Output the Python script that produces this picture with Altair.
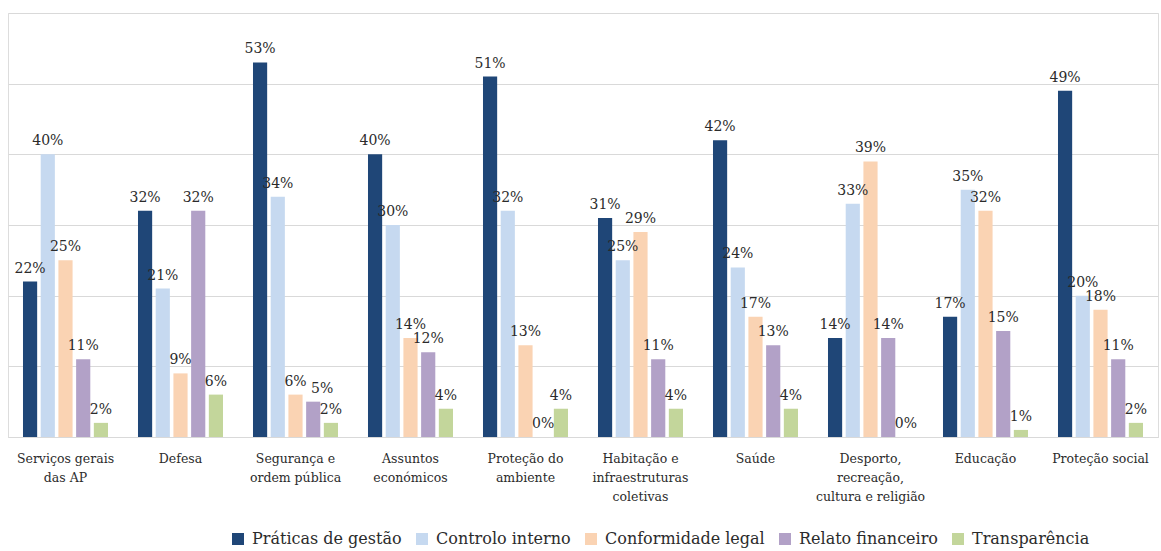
import altair as alt
import pandas as pd

# Areas of government (line breaks mark how the axis labels wrap)
areas = [
    "Serviços gerais\ndas AP",
    "Defesa",
    "Segurança e\nordem pública",
    "Assuntos\neconómicos",
    "Proteção do\nambiente",
    "Habitação e\ninfraestruturas\ncoletivas",
    "Saúde",
    "Desporto,\nrecreação,\ncultura e religião",
    "Educação",
    "Proteção social",
]

series = [
    "Práticas de gestão",
    "Controlo interno",
    "Conformidade legal",
    "Relato financeiro",
    "Transparência",
]
colors = ["#1F4677", "#C6D9F0", "#FAD3B3", "#B2A1C7", "#C3D69B"]

# Share of recommendations (%) per area, one list per series
praticas = [22, 32, 53, 40, 51, 31, 42, 14, 17, 49]
controlo = [40, 21, 34, 30, 32, 25, 24, 33, 35, 20]
conformidade = [25, 9, 6, 14, 13, 29, 17, 39, 32, 18]
relato = [11, 32, 5, 12, 0, 11, 13, 14, 15, 11]
transparencia = [2, 6, 2, 4, 4, 4, 4, 0, 1, 2]

values = [praticas, controlo, conformidade, relato, transparencia]

rows = []
for s, vals in zip(series, values):
    for a, v in zip(areas, vals):
        rows.append({"area": a, "serie": s, "valor": v / 100, "rotulo": f"{v}%"})
df = pd.DataFrame(rows)

FONT = "DejaVu Serif"
TEXT = "#2B2B2B"

base = alt.Chart(df).encode(
    x=alt.X(
        "area:N",
        sort=areas,
        scale=alt.Scale(paddingInner=0.23, paddingOuter=0.115),
        axis=alt.Axis(
            title=None,
            labelAngle=0,
            labelExpr="split(datum.label, '\\n')",
            labelFont=FONT,
            labelFontSize=12.5,
            labelColor=TEXT,
            labelLineHeight=19,
            labelPadding=15,
            labelBaseline="top",
            labelLimit=200,
            ticks=False,
            domain=True,
            domainColor="#D9D9D9",
            grid=False,
        ),
    ),
    xOffset=alt.XOffset(
        "serie:N",
        sort=series,
        scale=alt.Scale(paddingInner=0.2, paddingOuter=0.1),
    ),
    y=alt.Y(
        "valor:Q",
        scale=alt.Scale(domain=[0, 0.6], nice=False),
        axis=alt.Axis(
            title=None,
            values=[0, 0.1, 0.2, 0.3, 0.4, 0.5, 0.6],
            labels=False,
            ticks=False,
            domain=False,
            grid=True,
            gridColor="#D9D9D9",
            gridWidth=1,
        ),
    ),
)

bars = base.mark_bar().encode(
    color=alt.Color(
        "serie:N",
        sort=series,
        scale=alt.Scale(domain=series, range=colors),
        legend=alt.Legend(
            title=None,
            orient="none",
            direction="horizontal",
            columns=5,
            legendX=222,
            legendY=518,
            symbolType="square",
            symbolSize=144,
            symbolStrokeWidth=0,
            labelFont=FONT,
            labelFontSize=16,
            labelColor=TEXT,
            labelLimit=300,
            columnPadding=12,
            labelOffset=6,
        ),
    )
)

# Value labels above each bar; the crowded one in "Segurança e ordem pública"
# (Relato financeiro) is nudged to the right so it does not collide.
crowded = (alt.datum.area == areas[2]) & (alt.datum.serie == series[3])

label_style = dict(baseline="bottom", dy=-6, font=FONT, fontSize=14, color=TEXT)

labels = (
    base.mark_text(**label_style)
    .encode(text="rotulo:N")
    .transform_filter(~crowded)
)
labels_nudged = (
    base.mark_text(dx=9, **label_style)
    .encode(text="rotulo:N")
    .transform_filter(crowded)
)

chart = (
    alt.layer(bars, labels, labels_nudged)
    .properties(
        width=1150,
        height=424,
        autosize=alt.AutoSizeParams(type="none"),
        padding={"left": 8, "top": 13, "right": 3, "bottom": 114},
    )
    .configure_view(stroke=None)
    .configure(background="white")
)

chart.save("out.html", embed_options={"renderer": "svg", "actions": False})
